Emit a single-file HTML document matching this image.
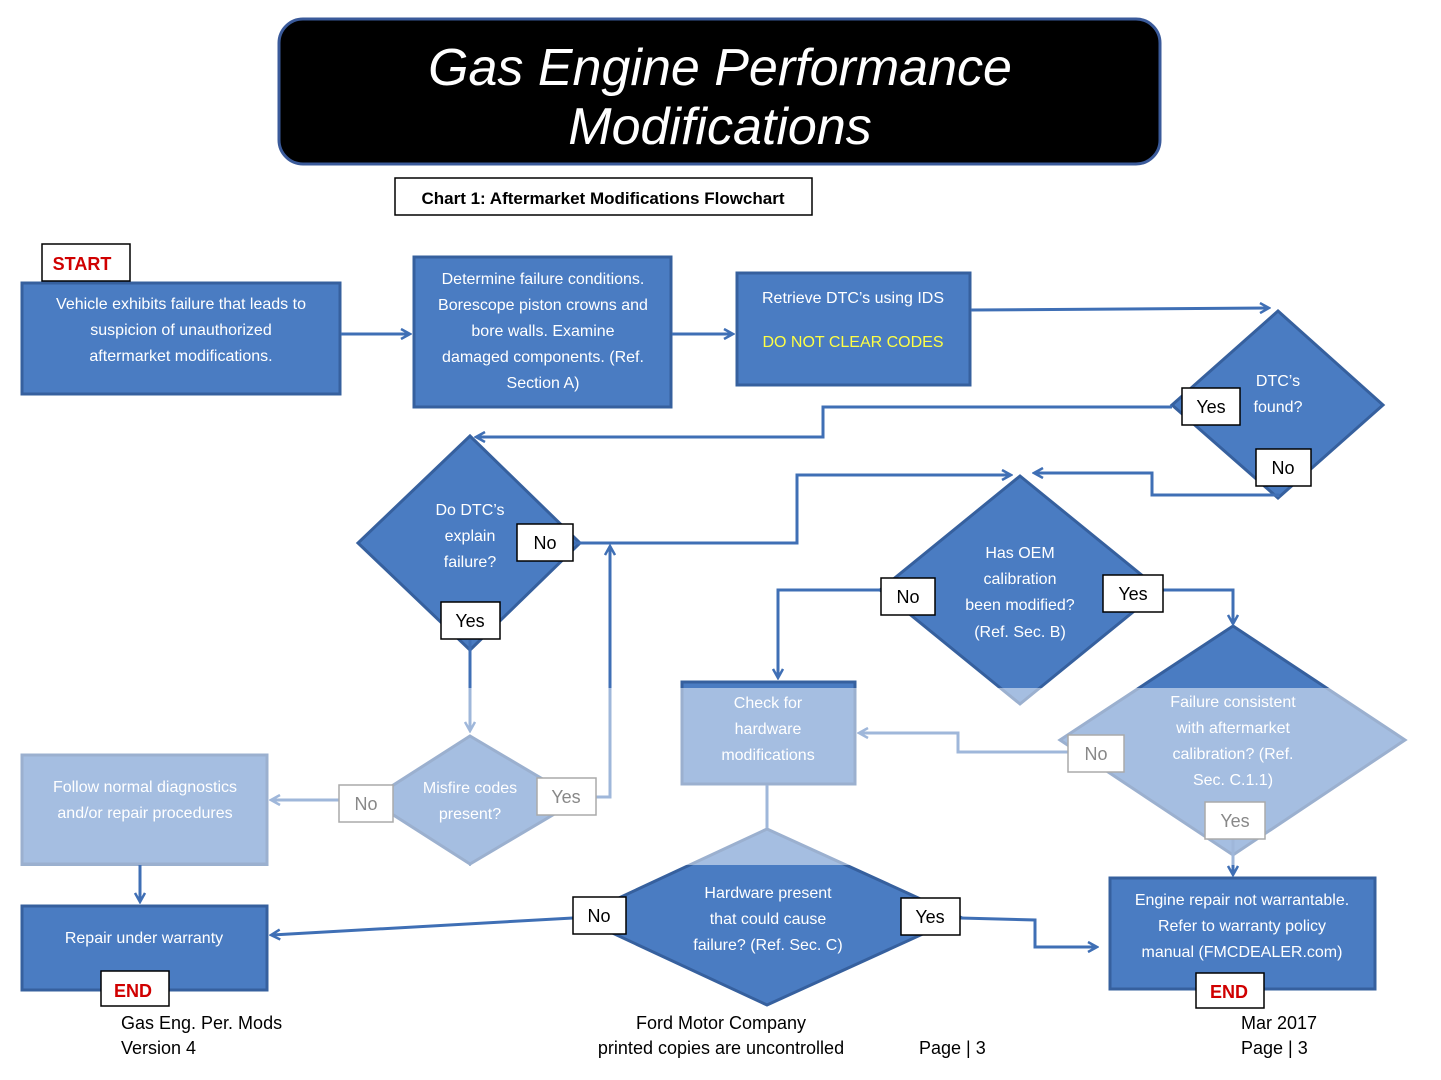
<!DOCTYPE html>
<html><head><meta charset="utf-8"><style>
body{margin:0;background:#fff;}
svg{display:block;font-family:"Liberation Sans",sans-serif;}
</style></head><body>
<svg width="1441" height="1080" viewBox="0 0 1441 1080" xmlns="http://www.w3.org/2000/svg">
<defs>
<marker id="a" markerWidth="12" markerHeight="12" refX="9" refY="6" orient="auto" markerUnits="userSpaceOnUse">
<path d="M1,1 L10,6 L1,11" fill="none" stroke="#3f6fb5" stroke-width="2.5"/>
</marker>
</defs>
<rect x="279" y="19" width="881" height="145" rx="24" fill="#000" stroke="#3a5a9a" stroke-width="3"/>
<text x="720" y="85" text-anchor="middle" font-size="52" font-style="italic" fill="#fff">Gas Engine Performance</text>
<text x="720" y="144" text-anchor="middle" font-size="52" font-style="italic" fill="#fff">Modifications</text>
<rect x="395" y="178" width="417" height="37" fill="#fff" stroke="#000" stroke-width="1.5"/>
<text x="603" y="204" text-anchor="middle" font-size="17" font-weight="bold">Chart 1: Aftermarket Modifications Flowchart</text>

<g fill="#4a7cc2" stroke="#36609e" stroke-width="3">
<rect x="22" y="283" width="318" height="111"/>
<rect x="414" y="257" width="257" height="150"/>
<rect x="737" y="273" width="233" height="112"/>
<polygon points="1278,311 1383,405 1278,498 1172,405"/>
<polygon points="470,436 580,543 470,650 358,543"/>
<polygon points="1020,476 1160,590 1020,704 880,590"/>
<polygon points="1233,626 1405,740 1233,855 1060,740"/>
<rect x="682" y="682" width="173" height="102"/>
<rect x="22" y="755" width="245" height="109"/>
<polygon points="470,736 578,800 470,864 370,800"/>
<rect x="22" y="906" width="245" height="84"/>
<polygon points="767,829 960,917 767,1005 578,917"/>
<rect x="1110" y="878" width="265" height="111"/>
</g>

<g fill="none" stroke="#3f6fb5" stroke-width="3">
<path d="M341,334 H409" marker-end="url(#a)"/>
<path d="M672,334 H732" marker-end="url(#a)"/>
<path d="M971,310 L1268,308" marker-end="url(#a)"/>
<path d="M1172,407 H823 V437 H477" marker-end="url(#a)"/>
<path d="M1278,497 V495 H1152 V473 H1035" marker-end="url(#a)"/>
<path d="M573,543 H797 V475 H1010" marker-end="url(#a)"/>
<path d="M470,640 V730" marker-end="url(#a)"/>
<path d="M596,797 H610 V547" marker-end="url(#a)"/>
<path d="M339,800 H272" marker-end="url(#a)"/>
<path d="M140,865 V901" marker-end="url(#a)"/>
<path d="M881,590 H778 V677" marker-end="url(#a)"/>
<path d="M1163,590 H1233 V623" marker-end="url(#a)"/>
<path d="M1068,752 H958 V733 H860" marker-end="url(#a)"/>
<path d="M1233,839 V874" marker-end="url(#a)"/>
<path d="M767,785 V828"/>
<path d="M573,918 L272,935" marker-end="url(#a)"/>
<path d="M960,918 L1035,920 V947 H1096" marker-end="url(#a)"/>
</g>

<g fill="#fff" font-size="16" text-anchor="middle">
<text x="181" y="309">Vehicle exhibits failure that leads to</text>
<text x="181" y="335">suspicion of unauthorized</text>
<text x="181" y="361">aftermarket modifications.</text>
<text x="543" y="284">Determine failure conditions.</text>
<text x="543" y="310">Borescope piston crowns and</text>
<text x="543" y="336">bore walls.  Examine</text>
<text x="543" y="362">damaged components. (Ref.</text>
<text x="543" y="388">Section A)</text>
<text x="853" y="303">Retrieve DTC’s using IDS</text>
<text x="853" y="347" fill="#ffff44">DO NOT CLEAR CODES</text>
<text x="1278" y="386">DTC’s</text>
<text x="1278" y="412">found?</text>
<text x="470" y="515">Do DTC’s</text>
<text x="470" y="541">explain</text>
<text x="470" y="567">failure?</text>
<text x="1020" y="558">Has OEM</text>
<text x="1020" y="584">calibration</text>
<text x="1020" y="610">been modified?</text>
<text x="1020" y="637">(Ref. Sec. B)</text>
<text x="1233" y="707">Failure consistent</text>
<text x="1233" y="733">with aftermarket</text>
<text x="1233" y="759">calibration? (Ref.</text>
<text x="1233" y="785">Sec. C.1.1)</text>
<text x="768" y="708">Check for</text>
<text x="768" y="734">hardware</text>
<text x="768" y="760">modifications</text>
<text x="145" y="792">Follow normal diagnostics</text>
<text x="145" y="818">and/or repair procedures</text>
<text x="470" y="793">Misfire codes</text>
<text x="470" y="819">present?</text>
<text x="144" y="943">Repair under warranty</text>
<text x="768" y="898">Hardware present</text>
<text x="768" y="924">that could cause</text>
<text x="768" y="950">failure? (Ref. Sec. C)</text>
<text x="1242" y="905">Engine repair not warrantable.</text>
<text x="1242" y="931">Refer to warranty policy</text>
<text x="1242" y="957">manual (FMCDEALER.com)</text>
</g>

<rect x="0" y="688" width="1441" height="177" fill="#fff" opacity="0.5"/>

<g fill="#fff" stroke="#000" stroke-width="1.5">
<rect x="42" y="244" width="88" height="37"/>
<rect x="1182" y="388" width="58" height="37"/>
<rect x="1256" y="449" width="55" height="37"/>
<rect x="517" y="524" width="56" height="37"/>
<rect x="441" y="602" width="59" height="37"/>
<rect x="881" y="578" width="54" height="37"/>
<rect x="1103" y="575" width="60" height="37"/>
<rect x="573" y="897" width="53" height="37"/>
<rect x="901" y="898" width="59" height="37"/>
<rect x="101" y="971" width="68" height="35"/>
<rect x="1196" y="973" width="68" height="35"/>
</g>
<g fill="#fff" stroke="#aaa" stroke-width="1.5">
<rect x="1068" y="735" width="56" height="37"/>
<rect x="1205" y="802" width="60" height="37"/>
<rect x="339" y="785" width="54" height="37"/>
<rect x="537" y="778" width="59" height="37"/>
</g>
<g font-size="18" text-anchor="middle">
<text x="82" y="270" fill="#d00000" font-weight="bold">START</text>
<text x="1211" y="413">Yes</text>
<text x="1283" y="474">No</text>
<text x="545" y="549">No</text>
<text x="470" y="627">Yes</text>
<text x="908" y="603">No</text>
<text x="1133" y="600">Yes</text>
<text x="599" y="922">No</text>
<text x="930" y="923">Yes</text>
<text x="133" y="997" fill="#d00000" font-weight="bold">END</text>
<text x="1229" y="998" fill="#d00000" font-weight="bold">END</text>
<g fill="#888"><text x="1096" y="760">No</text><text x="1235" y="827">Yes</text><text x="366" y="810">No</text><text x="566" y="803">Yes</text></g>
</g>
<g font-size="18">
<text x="121" y="1029">Gas Eng. Per. Mods</text>
<text x="121" y="1054">Version 4</text>
<text x="721" y="1029" text-anchor="middle">Ford Motor Company</text>
<text x="721" y="1054" text-anchor="middle">printed copies are uncontrolled</text>
<text x="919" y="1054">Page | 3</text>
<text x="1241" y="1029">Mar 2017</text>
<text x="1241" y="1054">Page | 3</text>
</g>
</svg>
</body></html>
